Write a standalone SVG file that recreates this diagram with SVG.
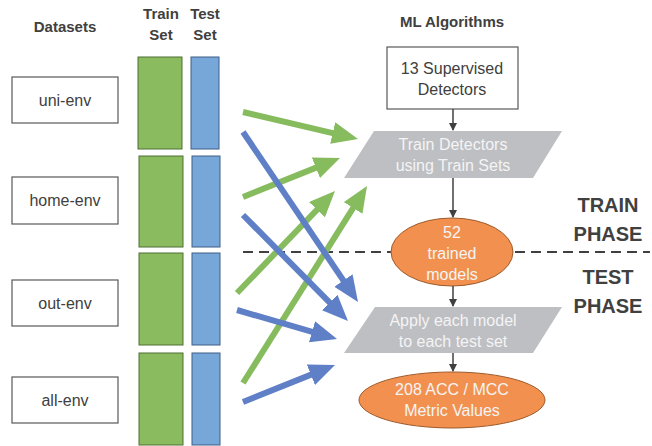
<svg xmlns="http://www.w3.org/2000/svg" width="652" height="446" viewBox="0 0 652 446">
<defs>
<style>
.t{font-family:"Liberation Sans",Arial,sans-serif;font-size:16px;fill:#404040;text-anchor:middle}
.w{fill:#F4F4F4}
.h{font-weight:bold;font-size:15px;fill:#404040}
.ph{font-weight:bold;font-size:20px;fill:#404040}
.box{fill:#fff;stroke:#595959;stroke-width:1.2}
.tr{fill:#8BBB5F;stroke:#4E6E33;stroke-width:1}
.te{fill:#77A6D9;stroke:#3F5F86;stroke-width:1}
.para{fill:#BEBFC3}
.ell{fill:#F2914F;stroke:#9E5A2A;stroke-width:1}
.g{stroke:#86BB5E;stroke-width:6;fill:none;marker-end:url(#hg)}
.b{stroke:#5F7FC6;stroke-width:6;fill:none;marker-end:url(#hb)}
.k{stroke:#404040;stroke-width:1.5;fill:none;marker-end:url(#hk)}
</style>
<marker id="hg" markerUnits="userSpaceOnUse" markerWidth="27" markerHeight="23" refX="11" refY="11" orient="auto"><path d="M0,0 L26,11 L0,22 z" fill="#86BB5E"/></marker>
<marker id="hb" markerUnits="userSpaceOnUse" markerWidth="27" markerHeight="23" refX="11" refY="11" orient="auto"><path d="M0,0 L26,11 L0,22 z" fill="#5F7FC6"/></marker>
<marker id="hk" markerUnits="userSpaceOnUse" markerWidth="8" markerHeight="8" refX="7" refY="4" orient="auto"><path d="M0,0 L8,4 L0,8 z" fill="#404040"/></marker>
</defs>
<rect width="652" height="446" fill="#fff"/>
<g id="headers">
<text class="t h" x="65" y="32">Datasets</text>
<text class="t h" x="161" y="19">Train</text>
<text class="t h" x="161" y="40">Set</text>
<text class="t h" x="205" y="19">Test</text>
<text class="t h" x="205" y="40">Set</text>
<text class="t h" x="452" y="27">ML Algorithms</text>
</g>
<g id="uni-env"><rect class="box" x="12" y="77" width="106" height="46"/><text class="t" x="65" y="106">uni-env</text></g>
<g id="home-env"><rect class="box" x="12" y="177" width="106" height="47"/><text class="t" x="65" y="206">home-env</text></g>
<g id="out-env"><rect class="box" x="12" y="280" width="106" height="46"/><text class="t" x="65" y="309">out-env</text></g>
<g id="all-env"><rect class="box" x="12" y="377" width="106" height="46"/><text class="t" x="65" y="406">all-env</text></g>
<g id="sets">
<rect class="tr" x="138" y="57" width="44" height="92"/><rect class="te" x="191" y="57" width="28" height="92"/>
<rect class="tr" x="139" y="156" width="44" height="91"/><rect class="te" x="192" y="156" width="28" height="91"/>
<rect class="tr" x="139" y="253" width="44" height="92"/><rect class="te" x="192" y="253" width="28" height="92"/>
<rect class="tr" x="139" y="353" width="44" height="92"/><rect class="te" x="192" y="353" width="28" height="92"/>
</g>
<g id="phase-divider">
<line x1="243" y1="252" x2="650" y2="252" stroke="#404040" stroke-width="2" stroke-dasharray="10,6"/>
<text class="t ph" x="608" y="212">TRAIN</text>
<text class="t ph" x="608" y="241">PHASE</text>
<text class="t ph" x="608" y="284">TEST</text>
<text class="t ph" x="608" y="313">PHASE</text>
</g>
<g id="supervised"><rect class="box" x="387" y="47" width="131" height="62"/><text class="t" x="452" y="74">13 Supervised</text><text class="t" x="452" y="95">Detectors</text></g>
<g id="train-detectors"><polygon class="para" points="374,131 562,131 533,178 344,178"/><text class="t w" x="453" y="150">Train Detectors</text><text class="t w" x="453" y="171">using Train Sets</text></g>
<g id="trained-models"><ellipse class="ell" cx="452" cy="252" rx="61" ry="34"/><text class="t w" x="452" y="238">52</text><text class="t w" x="452" y="259">trained</text><text class="t w" x="452" y="280">models</text></g>
<g id="apply"><polygon class="para" points="375,307 562,307 533,353 344,353"/><text class="t w" x="453" y="326">Apply each model</text><text class="t w" x="453" y="347">to each test set</text></g>
<g id="metrics"><ellipse class="ell" cx="452" cy="400" rx="93" ry="28"/><text class="t w" x="452" y="395">208 ACC / MCC</text><text class="t w" x="452" y="416">Metric Values</text></g>
<g id="connectors">
<line class="k" x1="453" y1="109" x2="453" y2="130"/>
<line class="k" x1="453" y1="178" x2="453" y2="217"/>
<line class="k" x1="453" y1="286" x2="453" y2="306"/>
<line class="k" x1="453" y1="353" x2="453" y2="371"/>
<line class="g" x1="243" y1="112" x2="343.4" y2="135.6"/>
<line class="g" x1="243" y1="197" x2="326.1" y2="163.6"/>
<line class="g" x1="237" y1="293" x2="324.6" y2="201.8"/>
<line class="g" x1="243" y1="383" x2="359" y2="198.7"/>
<line class="b" x1="243" y1="132" x2="349.6" y2="289.6"/>
<line class="b" x1="243" y1="215" x2="337.4" y2="310.3"/>
<line class="b" x1="237" y1="310" x2="322.6" y2="334.8"/>
<line class="b" x1="243" y1="402" x2="321.1" y2="370.6"/>
</g>
</svg>
